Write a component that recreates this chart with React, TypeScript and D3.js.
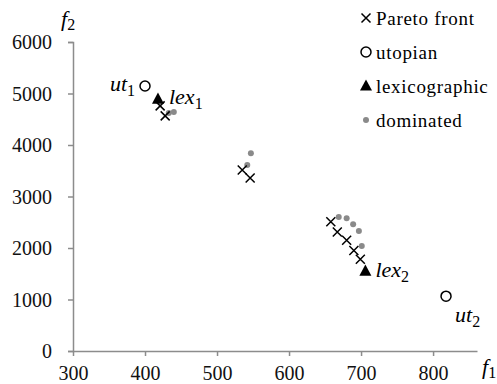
import React, { useEffect, useRef } from "react";
import * as d3 from "d3";

const xTicks = [300, 400, 500, 600, 700, 800];
const yTicks = [0, 1000, 2000, 3000, 4000, 5000, 6000];

const paretoF1 = [421, 428, 535, 546, 658, 667, 680, 690, 699];
const paretoF2 = [4760, 4565, 3515, 3360, 2510, 2310, 2150, 1950, 1780];

const dominatedF1 = [433, 440, 542, 547, 669, 680, 689, 697, 701];
const dominatedF2 = [4620, 4640, 3610, 3840, 2600, 2580, 2460, 2330, 2040];

const utopianF1 = [400, 818];
const utopianF2 = [5145, 1065];
const utopianNames = ["ut", "ut"];
const utopianSubs = ["1", "2"];

const lexF1 = [418, 706];
const lexF2 = [4890, 1550];
const lexSubs = ["1", "2"];

const legendLabels = ["Pareto front", "utopian", "lexicographic", "dominated"];

const W = 497;
const H = 384;
const FONT = "Liberation Serif, Times New Roman, Times, DejaVu Serif, serif";
const AXIS = "#8c8c8c";

export default function App() {
  const ref = useRef<SVGSVGElement>(null);

  const x = d3.scaleLinear().domain([300, 861]).range([73, 477]);
  const y = d3.scaleLinear().domain([0, 6000]).range([351, 42]);

  useEffect(() => {
    const svg = d3.select(ref.current);
    svg.selectAll(".ax").remove();
    const gx = svg
      .append("g")
      .attr("class", "ax")
      .attr("transform", `translate(0,${y(0)})`)
      .call(
        d3
          .axisBottom(x)
          .tickValues(xTicks)
          .tickSizeInner(5)
          .tickSizeOuter(0)
          .tickPadding(10)
          .tickFormat(d3.format("d"))
      );
    const gy = svg
      .append("g")
      .attr("class", "ax")
      .attr("transform", `translate(${x(300)},0)`)
      .call(
        d3
          .axisLeft(y)
          .tickValues(yTicks)
          .tickSizeInner(5)
          .tickSizeOuter(5)
          .tickPadding(16)
          .tickFormat(d3.format("d"))
      );
    [gx, gy].forEach((g) => {
      g.attr("font-family", FONT).attr("font-size", 20);
      g.selectAll("path").attr("stroke", AXIS).attr("stroke-width", 1.5);
      g.selectAll("line").attr("stroke", AXIS).attr("stroke-width", 1.5);
      g.selectAll("text")
        .attr("fill", "#111")
        .attr("font-family", FONT)
        .attr("font-size", 20);
    });
    gx.selectAll("text").attr("dy", "0.71em");
    gy.selectAll("text").attr("dy", "0.33em");
  }, []);

  const cross = (cx: number, cy: number, s: number, key: string) => (
    <path
      key={key}
      d={`M${cx - s},${cy - s}L${cx + s},${cy + s}M${cx - s},${cy + s}L${cx + s},${cy - s}`}
      stroke="#000"
      strokeWidth={1.5}
      fill="none"
    />
  );
  const tri = (cx: number, cy: number, s: number, key: string) => (
    <path
      key={key}
      d={`M${cx},${cy - s * 1.1}L${cx + s},${cy + s * 0.75}L${cx - s},${cy + s * 0.75}Z`}
      fill="#000"
    />
  );

  const legendX = 366;
  const legendY = [18, 52, 86, 120];
  const lbl = { fontFamily: FONT, fontSize: 22, fontStyle: "italic" as const };
  const SUB = 16;

  return (
    <svg
      ref={ref}
      width={W}
      height={H}
      fontFamily={FONT}
      style={{ position: "absolute", left: 0, top: 0, background: "#fff" }}
    >
      {dominatedF1.map((v, i) => (
        <circle key={"d" + i} cx={x(v)} cy={y(dominatedF2[i])} r={3} fill="#8a8a8a" />
      ))}
      {paretoF1.map((v, i) => cross(x(v), y(paretoF2[i]), 4.5, "p" + i))}
      {utopianF1.map((v, i) => (
        <circle
          key={"u" + i}
          cx={x(v)}
          cy={y(utopianF2[i])}
          r={5}
          fill="#fff"
          stroke="#000"
          strokeWidth={1.5}
        />
      ))}
      {lexF1.map((v, i) => tri(x(v), y(lexF2[i]), 6, "l" + i))}

      {/* point labels */}
      <text x={x(utopianF1[0]) - 10} y={y(utopianF2[0]) + 5} textAnchor="end" style={lbl}>
        {utopianNames[0]}
        <tspan fontStyle="normal" fontSize={SUB} dy={5}>{utopianSubs[0]}</tspan>
      </text>
      <text x={x(lexF1[0]) + 11} y={y(lexF2[0]) + 5} style={lbl}>
        lex
        <tspan fontStyle="normal" fontSize={SUB} dy={5}>{lexSubs[0]}</tspan>
      </text>
      <text x={x(lexF1[1]) + 10} y={y(lexF2[1]) + 6} style={lbl}>
        lex
        <tspan fontStyle="normal" fontSize={SUB} dy={5}>{lexSubs[1]}</tspan>
      </text>
      <text x={x(utopianF1[1]) + 9} y={y(utopianF2[1]) + 26} style={lbl}>
        {utopianNames[1]}
        <tspan fontStyle="normal" fontSize={SUB} dy={5}>{utopianSubs[1]}</tspan>
      </text>

      {/* axis titles */}
      <text x={61} y={26} style={lbl}>
        f
        <tspan fontStyle="normal" fontSize={SUB} dy={4}>2</tspan>
      </text>
      <text x={482} y={374} style={lbl}>
        f
        <tspan fontStyle="normal" fontSize={SUB} dy={4}>1</tspan>
      </text>

      {/* legend */}
      {cross(legendX, legendY[0], 4.5, "lg0")}
      <circle cx={legendX} cy={legendY[1]} r={5} fill="#fff" stroke="#000" strokeWidth={1.5} />
      {tri(legendX, legendY[2], 6, "lg2")}
      <circle cx={legendX} cy={legendY[3]} r={3} fill="#8a8a8a" />
      {legendLabels.map((t, i) => (
        <text
          key={"lt" + i}
          x={legendX + 10}
          y={legendY[i]}
          dy="0.35em"
          fontFamily={FONT}
          fontSize={19}
          letterSpacing={0.7}
        >
          {t}
        </text>
      ))}
    </svg>
  );
}
